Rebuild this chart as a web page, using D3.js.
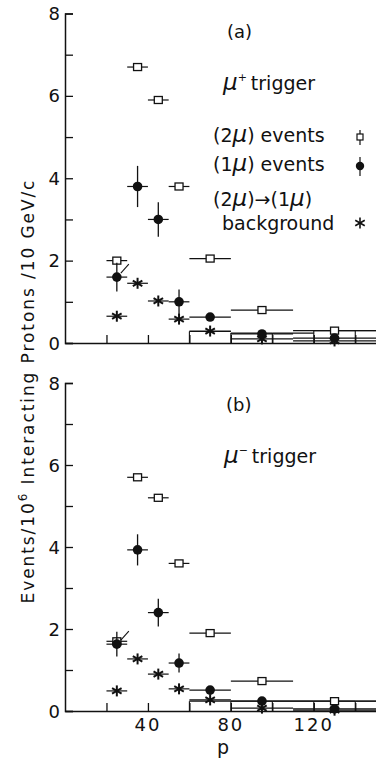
<!DOCTYPE html>
<html>
<head>
<meta charset="utf-8">
<script src="https://cdn.jsdelivr.net/npm/d3@7"></script>
<style>
  html, body { margin: 0; padding: 0; background: #fff; }
  svg { display: block; }
  text { font-family: "DejaVu Sans", sans-serif; fill: #111; }
</style>
</head>
<body>
<div id="chart"></div>
<script>
// momentum bins (GeV/c)
const pCenters = [25, 35, 45, 55, 70, 95, 130];
const pLow = [20, 30, 40, 50, 60, 80, 110];
const pHigh = [30, 40, 50, 60, 80, 110, 150];

// panel (a): mu+ trigger
const a2mu = [2.0, 6.7, 5.9, 3.8, 2.05, 0.8, 0.3];
const a1mu = [1.6, 3.8, 3.0, 1.0, 0.63, 0.22, 0.12];
const a1muErr = [0.35, 0.5, 0.42, 0.3, 0, 0, 0];
const aBg = [0.65, 1.45, 1.02, 0.58, 0.29, 0.1, 0.05];

// panel (b): mu- trigger
const b2mu = [1.7, 5.7, 5.2, 3.6, 1.9, 0.73, 0.24];
const b1mu = [1.63, 3.93, 2.4, 1.17, 0.51, 0.24, 0.05];
const b1muErr = [0.3, 0.38, 0.34, 0.23, 0, 0, 0];
const bBg = [0.49, 1.27, 0.9, 0.54, 0.27, 0.07, 0.02];

// background histogram boxes along the bottom
const histEdges = [60, 80, 100, 120, 140, 160];
const aHist = [0.28, 0.24, 0.24, 0.3, 0.3];
const bHist = [0.24, 0.24, 0.24, 0.24, 0.24];

const xTicks = [20, 40, 60, 80, 100, 120, 140];
const xTickLabels = [40, 80, 120];
const yTicks = [0, 1, 2, 3, 4, 5, 6, 7, 8];
const yTickLabels = [0, 2, 4, 6, 8];

let width = 376, height = 762;
let ink = "#111";

let svg = d3.select("#chart")
  .append("svg")
  .attr("width", width)
  .attr("height", height);

let xScale = d3.scaleLinear().domain([0, 150]).range([65, 376]);

function asterisk(g, cx, cy, r, sw) {
  [90, 30, -30].forEach(a => {
    let dx = r * Math.cos(a * Math.PI / 180), dy = r * Math.sin(a * Math.PI / 180);
    g.append("line")
      .attr("x1", cx - dx).attr("x2", cx + dx)
      .attr("y1", cy - dy).attr("y2", cy + dy)
      .attr("stroke", ink).attr("stroke-width", sw);
  });
}

function drawPanel(top, bottom, s2, s1, s1err, sbg, hist, showXLabels) {
  let yScale = d3.scaleLinear().domain([0, 8]).range([bottom, top]);
  let g = svg.append("g");

  // y axis, ticks inside
  g.append("g")
    .attr("transform", "translate(" + xScale(0) + ",0)")
    .call(d3.axisRight(yScale).tickValues(yTicks).tickSize(8).tickFormat(""))
    .call(a => a.select(".domain").attr("stroke", ink).attr("stroke-width", 1.5))
    .call(a => a.selectAll(".tick line").attr("stroke", ink).attr("stroke-width", 1.3));

  g.selectAll(".ylab")
    .data(yTickLabels)
    .enter()
    .append("text")
    .attr("x", xScale(0) - 5)
    .attr("y", d => yScale(d) + 6.5)
    .attr("text-anchor", "end")
    .style("font-size", "18px")
    .text(d => d);

  // x axis, ticks pointing up
  g.append("g")
    .attr("transform", "translate(0," + yScale(0) + ")")
    .call(d3.axisTop(xScale).tickValues(xTicks).tickSize(8).tickSizeOuter(0).tickFormat(""))
    .call(a => a.select(".domain").attr("stroke", ink).attr("stroke-width", 1.5))
    .call(a => a.selectAll(".tick line").attr("stroke", ink).attr("stroke-width", 1.3));

  if (showXLabels) {
    g.selectAll(".xlab")
      .data(xTickLabels)
      .enter()
      .append("text")
      .attr("x", d => xScale(d))
      .attr("y", yScale(0) + 20)
      .attr("text-anchor", "middle")
      .style("font-size", "18px")
      .style("letter-spacing", "2px")
      .text(d => d);
  }

  // background histogram
  hist.forEach((h, i) => {
    let x0 = xScale(histEdges[i]), x1 = Math.min(xScale(histEdges[i + 1]), width);
    g.append("line")
      .attr("x1", x0).attr("x2", x1)
      .attr("y1", yScale(h)).attr("y2", yScale(h))
      .attr("stroke", ink).attr("stroke-width", 1.1);
    g.append("line")
      .attr("x1", x0).attr("x2", x0)
      .attr("y1", yScale(h)).attr("y2", yScale(0))
      .attr("stroke", ink).attr("stroke-width", 1.1);
  });

  let hbar = (vals) => {
    g.selectAll(null)
      .data(vals)
      .enter()
      .append("line")
      .attr("x1", (d, i) => xScale(pLow[i]))
      .attr("x2", (d, i) => Math.min(xScale(pHigh[i]), width))
      .attr("y1", d => yScale(d))
      .attr("y2", d => yScale(d))
      .attr("stroke", ink)
      .attr("stroke-width", 1.2);
  };

  // (2mu)->(1mu) background: asterisks
  hbar(sbg);
  sbg.forEach((d, i) => asterisk(g, xScale(pCenters[i]), yScale(d), 5.5, 2));

  // (2mu) events: open squares
  hbar(s2);
  g.selectAll(null)
    .data(s2)
    .enter()
    .append("rect")
    .attr("x", (d, i) => xScale(pCenters[i]) - 4)
    .attr("y", d => yScale(d) - 3.5)
    .attr("width", 8)
    .attr("height", 7)
    .attr("fill", "#fff")
    .attr("stroke", ink)
    .attr("stroke-width", 1.3);

  // (1mu) events: filled circles with errors
  hbar(s1);
  g.selectAll(null)
    .data(s1)
    .enter()
    .append("line")
    .attr("x1", (d, i) => xScale(pCenters[i]))
    .attr("x2", (d, i) => xScale(pCenters[i]))
    .attr("y1", (d, i) => yScale(d + s1err[i]))
    .attr("y2", (d, i) => yScale(d - s1err[i]))
    .attr("stroke", ink)
    .attr("stroke-width", 1.3);
  g.selectAll(null)
    .data(s1)
    .enter()
    .append("circle")
    .attr("cx", (d, i) => xScale(pCenters[i]))
    .attr("cy", d => yScale(d))
    .attr("r", 4.8)
    .attr("fill", ink);

  // small slanted stroke by the first (1mu) point
  g.append("line")
    .attr("x1", xScale(pCenters[0]) + 4)
    .attr("y1", yScale(s1[0]) - 4)
    .attr("x2", xScale(pCenters[0]) + 12)
    .attr("y2", yScale(s1[0]) - 13)
    .attr("stroke", ink)
    .attr("stroke-width", 1.1);

  return yScale;
}

drawPanel(13.5, 343, a2mu, a1mu, a1muErr, aBg, aHist, false);
drawPanel(383, 711, b2mu, b1mu, b1muErr, bBg, bHist, true);

// panel texts
function panelLabel(x, y, txt, size) {
  svg.append("text").attr("x", x).attr("y", y).style("font-size", size).text(txt);
}
panelLabel(227, 38, "(a)", "18px");
panelLabel(226, 411, "(b)", "18px");

function trigger(x, y, sign) {
  let t = svg.append("text").attr("x", x).attr("y", y).style("font-size", "19px");
  t.append("tspan").style("font-style", "italic").style("font-size", "23px").text("μ");
  t.append("tspan").attr("dy", -9).style("font-size", "11px").text(sign);
  t.append("tspan").attr("dy", 9).attr("dx", 4).text("trigger");
}
trigger(223, 90, "+");
trigger(224, 463, "−");

// legend
function muText(x, y, parts) {
  let t = svg.append("text").attr("x", x).attr("y", y).style("font-size", "19px");
  parts.forEach(p => {
    t.append("tspan")
      .style("font-style", p.it ? "italic" : "normal")
      .style("font-size", p.it ? "23px" : "19px")
      .text(p.s);
  });
}
muText(213, 142, [{ s: "(2" }, { s: "μ", it: true }, { s: ") events" }]);
muText(213, 171, [{ s: "(1" }, { s: "μ", it: true }, { s: ") events" }]);
muText(213, 206, [{ s: "(2" }, { s: "μ", it: true }, { s: ")→(1" }, { s: "μ", it: true }, { s: ")" }]);
muText(222, 230, [{ s: "background" }]);

let lx = 360;
svg.append("line").attr("x1", lx).attr("x2", lx).attr("y1", 130).attr("y2", 145).attr("stroke", ink).attr("stroke-width", 1.2);
svg.append("rect").attr("x", lx - 3).attr("y", 134).attr("width", 6).attr("height", 6).attr("fill", "#fff").attr("stroke", ink).attr("stroke-width", 1.2);
svg.append("line").attr("x1", lx).attr("x2", lx).attr("y1", 157).attr("y2", 176).attr("stroke", ink).attr("stroke-width", 1.2);
svg.append("circle").attr("cx", lx).attr("cy", 166).attr("r", 4.2).attr("fill", ink);
asterisk(svg, lx, 223, 5.5, 1.6);

// axis titles
let yt = svg.append("text")
  .attr("transform", "translate(34,392) rotate(-90)")
  .attr("text-anchor", "middle")
  .attr("textLength", 423)
  .attr("lengthAdjust", "spacing")
  .style("font-size", "17px");
yt.append("tspan").text("Events/10");
yt.append("tspan").attr("dy", -7).style("font-size", "12px").text("6");
yt.append("tspan").attr("dy", 7).text("  Interacting  Protons /10 GeV/c");

svg.append("text")
  .attr("x", 223)
  .attr("y", 754)
  .attr("text-anchor", "middle")
  .style("font-size", "19px")
  .text("p");
</script>
</body>
</html>
